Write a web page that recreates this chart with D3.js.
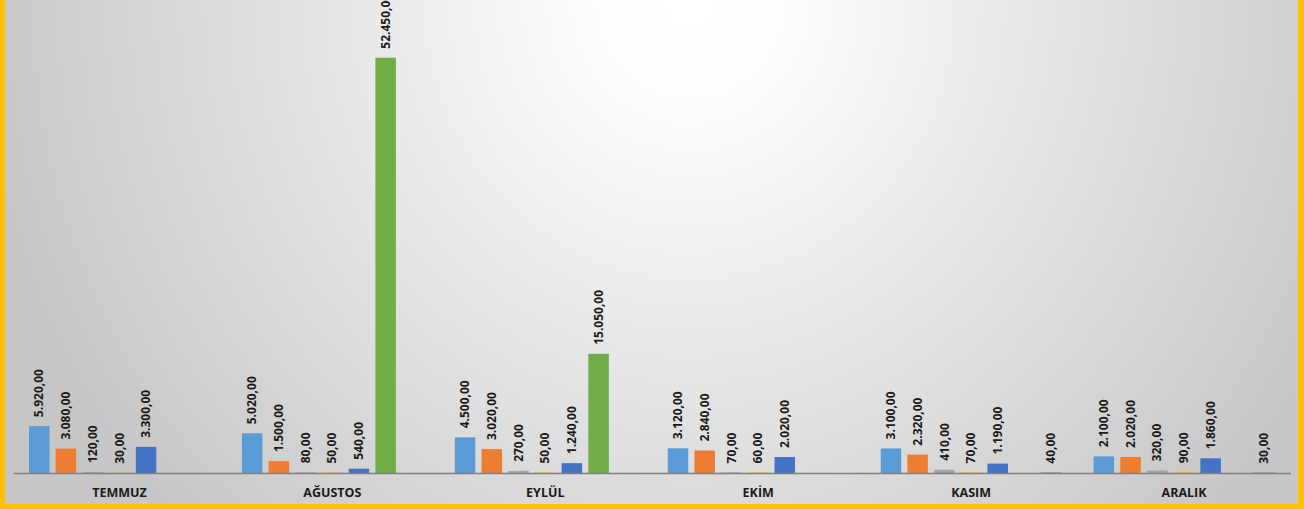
<!DOCTYPE html>
<html>
<head>
<meta charset="utf-8">
<script src="https://cdn.jsdelivr.net/npm/d3@7"></script>
<style>
    html, body { margin: 0; padding: 0; background: #fff; }
    svg { display: block; }
</style>
</head>
<body>
<div class="container"></div>
<script>
const w = 1304;
const h = 509;

// data
const months = ['TEMMUZ', 'AĞUSTOS', 'EYLÜL', 'EKİM', 'KASIM', 'ARALIK'];
const series1 = [5920, 5020, 4500, 3120, 3100, 2100];
const series2 = [3080, 1500, 3020, 2840, 2320, 2020];
const series3 = [120, 80, 270, 70, 410, 320];
const series4 = [30, 50, 50, 60, 70, 90];
const series5 = [3300, 540, 1240, 2020, 1190, 1860];
const series6 = [null, 52450, 15050, null, null, null];
const series7 = [null, null, null, null, 40, 30];
const allSeries = [series1, series2, series3, series4, series5, series6, series7];
const colors = ['#5b9bd5', '#ed7d31', '#a5a5a5', '#ffc000', '#4472c4', '#70ad47', '#264478'];

const fmt = v => {
    const s = v.toFixed(2).split('.');
    return s[0].replace(/\B(?=(\d{3})+(?!\d))/g, '.') + ',' + s[1];
};

const svg = d3.select('.container')
    .append('svg')
    .attr('width', w)
    .attr('height', h);

const defs = svg.append('defs');
const grad = defs.append('radialGradient')
    .attr('id', 'bg')
    .attr('gradientUnits', 'userSpaceOnUse')
    .attr('cx', 690).attr('cy', 0).attr('r', 720)
    .attr('gradientTransform', 'translate(690,0) scale(1,1.05) translate(-690,0)');
grad.append('stop').attr('offset', '0').attr('stop-color', '#ffffff');
grad.append('stop').attr('offset', '0.12').attr('stop-color', '#fdfdfd');
grad.append('stop').attr('offset', '1').attr('stop-color', '#c6c6c6');

svg.append('rect')
    .attr('width', w).attr('height', h)
    .attr('fill', '#ffc000');
svg.append('rect')
    .attr('x', 5).attr('y', 0)
    .attr('width', w - 11).attr('height', h - 5)
    .attr('fill', 'url(#bg)');

const x0 = d3.scaleBand()
    .domain(months)
    .range([13, 1290.5]);

const x1 = d3.scaleBand()
    .domain(d3.range(allSeries.length))
    .range([16, 196.7])
    .paddingInner(0.232);

const y = d3.scaleLinear()
    .domain([0, d3.max(series6)])
    .range([473, 57.7]);

const groups = svg.selectAll('g.month')
    .data(months)
    .enter()
    .append('g')
    .attr('class', 'month')
    .attr('transform', d => `translate(${x0(d)},0)`);

allSeries.forEach((s, j) => {
    const val = d => s[months.indexOf(d)];
    const g = groups.filter(d => val(d) != null);

    g.append('rect')
        .attr('x', x1(j))
        .attr('width', x1.bandwidth())
        .attr('y', d => y(val(d)))
        .attr('height', d => 473 - y(val(d)))
        .attr('fill', colors[j]);

    g.append('text')
        .attr('transform', d => `translate(${x1(j) + x1.bandwidth() / 2},${y(val(d)) - 9}) rotate(-90)`)
        .attr('dy', '0.35em')
        .attr('text-anchor', 'start')
        .style('font-family', 'Open Sans, sans-serif')
        .style('font-weight', 'bold')
        .style('font-size', '12px')
        .attr('fill', '#1a1a1a')
        .text(d => fmt(val(d)));
});

const xAxis = d3.axisBottom(x0).tickSize(0).tickPadding(15);
const gx = svg.append('g')
    .attr('transform', 'translate(0,473)')
    .call(xAxis);
gx.select('.domain')
    .attr('stroke', '#7f7f7f')
    .attr('stroke-width', 1.5);
gx.selectAll('text')
    .style('font-family', 'Open Sans, sans-serif')
    .style('font-weight', 'bold')
    .style('font-size', '12.5px')
    .attr('fill', '#1a1a1a');
</script>
</body>
</html>
